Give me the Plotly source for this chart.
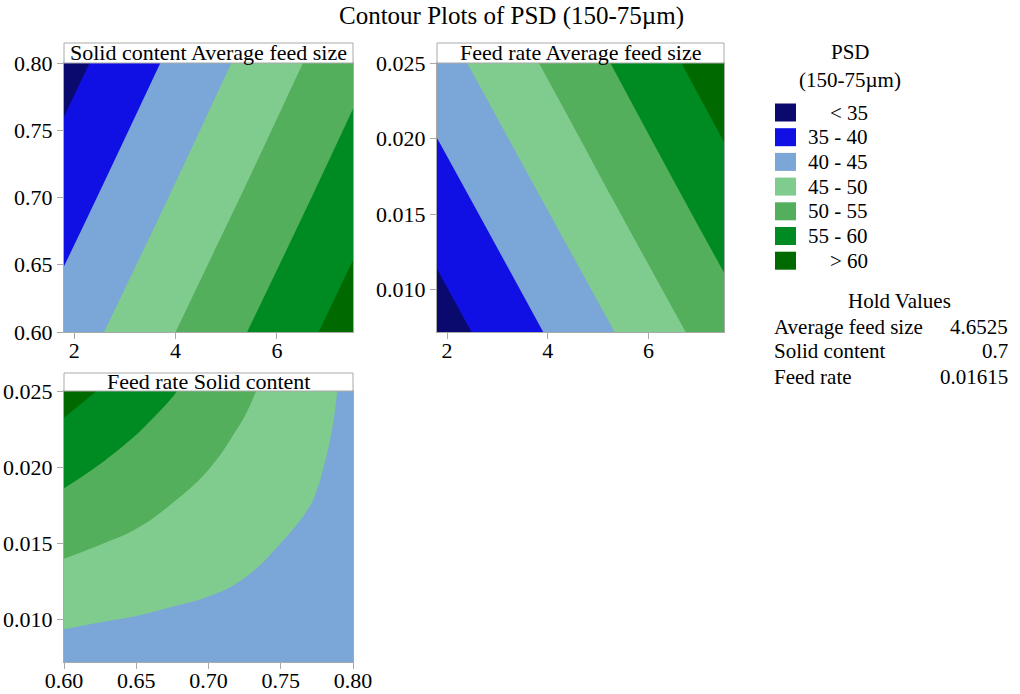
import plotly.graph_objects as go

# ---- response grids (PSD 150-75 µm, %) ----
# Panel 1: Solid content vs Average feed size (feed rate held)
feed_size_nodes = [1.8, 4.65, 7.5]
solid_nodes_p1 = [0.6, 0.7, 0.8]
psd_solid_size = [
    [42.2, 52.3, 62.4],   # solid = 0.60
    [37.7, 47.8, 57.9],   # solid = 0.70
    [33.2, 43.4, 53.5],   # solid = 0.80
]

# Panel 2: Feed rate vs Average feed size (solid content held)
feed_rate_nodes_p2 = [0.0072, 0.0161, 0.025]
psd_rate_size = [
    [32.6, 42.6, 52.7],   # feed rate = 0.0072
    [37.7, 47.8, 57.9],   # feed rate = 0.0161
    [42.9, 52.9, 63.0],   # feed rate = 0.025
]

# Panel 3: Feed rate vs Solid content (average feed size held)
solid_nodes_p3 = [0.600, 0.625, 0.650, 0.675, 0.700, 0.725, 0.750, 0.775, 0.800]
feed_rate_nodes_p3 = [0.0072, 0.0100, 0.0125, 0.0150, 0.0175, 0.0200, 0.0225, 0.0250]
psd_rate_solid = [
    [42.7, 42.5, 42.4, 42.4, 42.4, 42.4, 42.5, 42.7, 42.3],
    [45.7, 45.2, 44.8, 44.4, 44.1, 43.7, 43.4, 43.3, 42.6],
    [48.4, 47.6, 47.0, 46.2, 45.6, 44.9, 44.2, 43.8, 42.9],
    [51.1, 50.1, 49.2, 48.0, 47.1, 46.1, 45.0, 44.3, 43.2],
    [53.8, 52.5, 51.3, 49.9, 48.6, 47.3, 45.9, 44.8, 43.5],
    [56.5, 54.8, 53.3, 51.7, 50.1, 48.4, 46.7, 45.3, 43.7],
    [59.2, 57.3, 55.3, 53.5, 51.5, 49.6, 47.5, 45.8, 43.9],
    [61.9, 59.8, 57.4, 55.3, 52.9, 50.8, 48.3, 46.3, 44.0],
]

# contour bands
band_labels = ["< 35", "35 - 40", "40 - 45", "45 - 50", "50 - 55", "55 - 60", "> 60"]
band_colors = ["#0a0a6e", "#1010e4", "#7ba6d8", "#80cb8e", "#53af5b", "#008a22", "#006a00"]
level_start, level_end, level_step = 35, 60, 5

# hold values
hold_names = ["Average feed size", "Solid content", "Feed rate"]
hold_values = ["4.6525", "0.7", "0.01615"]

# tick labels
size_ticks = [2, 4, 6]
solid_ticks = [0.60, 0.65, 0.70, 0.75, 0.80]
rate_ticks = [0.010, 0.015, 0.020, 0.025]

SERIF = "Liberation Serif"
W, H = 1020, 694

n = len(band_colors)
zmin = level_start - level_step
zmax = level_end + level_step
colorscale = []
for i, c in enumerate(band_colors):
    colorscale.append([i / n, c])
    colorscale.append([(i + 1) / n, c])


def contour(x, y, z, xa, ya):
    return go.Contour(
        x=x, y=y, z=z, xaxis=xa, yaxis=ya,
        zmin=zmin, zmax=zmax, zauto=False,
        colorscale=colorscale, showscale=False,
        contours=dict(start=level_start, end=level_end, size=level_step,
                      coloring="fill", showlines=False),
        line=dict(width=0, smoothing=1.3),
        hoverinfo="skip",
    )


fig = go.Figure()
fig.add_trace(contour(feed_size_nodes, solid_nodes_p1, psd_solid_size, "x", "y"))
fig.add_trace(contour(feed_size_nodes, feed_rate_nodes_p2, psd_rate_size, "x2", "y2"))
fig.add_trace(contour(solid_nodes_p3, feed_rate_nodes_p3, psd_rate_solid, "x3", "y3"))


def px_x(p):
    return p / W


def px_y(p):
    return 1 - p / H


# panel boxes in whole pixels: (left, right, top, bottom)
boxes = {
    1: (64, 353, 63, 332),
    2: (437, 724, 63, 332),
    3: (64, 353, 391, 662),
}

axis_common = dict(
    showline=True, linecolor="#a9a9a9", linewidth=1, mirror=True,
    ticks="outside", ticklen=6, tickcolor="#a9a9a9", tickwidth=1,
    showgrid=False, zeroline=False, automargin=False,
    tickfont=dict(family=SERIF, size=22, color="black"),
)
xaxis_extra = dict(ticklabelstandoff=-7)

def dom(b):
    l, r, t, btm = b
    return [px_x(l), px_x(r)], [px_y(btm), px_y(t)]

xd1, yd1 = dom(boxes[1])
xd2, yd2 = dom(boxes[2])
xd3, yd3 = dom(boxes[3])

def rng(nodes):
    return [nodes[0], nodes[-1]]

fig.update_layout(
    width=W, height=H,
    font=dict(family=SERIF, color="black"),
    margin=dict(l=0, r=0, t=0, b=0, pad=0, autoexpand=False),
    paper_bgcolor="white", plot_bgcolor="white",
    showlegend=False,
    xaxis=dict(domain=xd1, anchor="y", range=rng(feed_size_nodes),
               tickvals=size_ticks, **axis_common, **xaxis_extra),
    yaxis=dict(domain=yd1, anchor="x", range=rng(solid_nodes_p1),
               tickvals=solid_ticks, tickformat=".2f", **axis_common),
    xaxis2=dict(domain=xd2, anchor="y2", range=rng(feed_size_nodes),
                tickvals=size_ticks, **axis_common, **xaxis_extra),
    yaxis2=dict(domain=yd2, anchor="x2", range=rng(feed_rate_nodes_p2),
                tickvals=rate_ticks, tickformat=".3f", **axis_common),
    xaxis3=dict(domain=xd3, anchor="y3", range=rng(solid_nodes_p3),
                tickvals=solid_ticks, tickformat=".2f", **axis_common, **xaxis_extra),
    yaxis3=dict(domain=yd3, anchor="x3", range=rng(feed_rate_nodes_p3),
                tickvals=rate_ticks, tickformat=".3f", **axis_common),
)

shapes = []
annotations = []

# panel header strips
strips = [
    (boxes[1][0], boxes[1][1], 43, 63, "Solid content Average feed size"),
    (boxes[2][0], boxes[2][1], 43, 63, "Feed rate Average feed size"),
    (boxes[3][0], boxes[3][1], 373, 391, "Feed rate Solid content"),
]
for l, r, t, b, txt in strips:
    shapes.append(dict(type="rect", xref="paper", yref="paper",
                       x0=px_x(l), x1=px_x(r), y0=px_y(b), y1=px_y(t),
                       fillcolor="white", line=dict(color="#a9a9a9", width=1)))
    annotations.append(dict(xref="paper", yref="paper", x=px_x((l + r) / 2), y=px_y((t + b) / 2 - 0.5),
                            text=txt, showarrow=False, xanchor="center", yanchor="middle",
                            font=dict(family=SERIF, size=22, color="black")))

# main title
annotations.append(dict(xref="paper", yref="paper", x=px_x(511), y=px_y(16),
                        text="Contour Plots of PSD (150-75µm)", showarrow=False,
                        xanchor="center", yanchor="middle",
                        font=dict(family=SERIF, size=25, color="black")))

# legend title
annotations.append(dict(xref="paper", yref="paper", x=px_x(850), y=px_y(52), text="PSD",
                        showarrow=False, xanchor="center", yanchor="middle",
                        font=dict(family=SERIF, size=21, color="black")))
annotations.append(dict(xref="paper", yref="paper", x=px_x(850), y=px_y(80), text="(150-75µm)",
                        showarrow=False, xanchor="center", yanchor="middle",
                        font=dict(family=SERIF, size=21, color="black")))

# legend swatches
for i, (lab, col) in enumerate(zip(band_labels, band_colors)):
    cy = 112.5 + i * 24.7
    shapes.append(dict(type="rect", xref="paper", yref="paper",
                       x0=px_x(775), x1=px_x(796), y0=px_y(cy + 9), y1=px_y(cy - 9),
                       fillcolor=col, line=dict(width=0)))
    annotations.append(dict(xref="paper", yref="paper", x=px_x(870), y=px_y(cy), text=lab,
                            showarrow=False, xanchor="right", yanchor="middle",
                            font=dict(family=SERIF, size=21, color="black")))

# hold values block
annotations.append(dict(xref="paper", yref="paper", x=px_x(899), y=px_y(301), text="Hold Values",
                        showarrow=False, xanchor="center", yanchor="middle",
                        font=dict(family=SERIF, size=21, color="black")))
for i, (nm, val) in enumerate(zip(hold_names, hold_values)):
    cy = 326.5 + i * 25
    annotations.append(dict(xref="paper", yref="paper", x=px_x(772), y=px_y(cy), text=nm,
                            showarrow=False, xanchor="left", yanchor="middle",
                            font=dict(family=SERIF, size=21, color="black")))
    annotations.append(dict(xref="paper", yref="paper", x=px_x(1010), y=px_y(cy), text=val,
                            showarrow=False, xanchor="right", yanchor="middle",
                            font=dict(family=SERIF, size=21, color="black")))

fig.update_layout(shapes=shapes, annotations=annotations)

fig.write_html("out.html")
